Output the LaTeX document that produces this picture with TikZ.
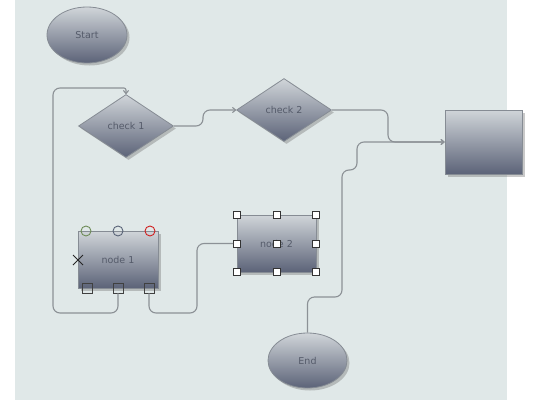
\documentclass[tikz,border=0pt]{standalone}
\usepackage{fontspec}
\setmainfont{DejaVu Sans}
\usetikzlibrary{shapes.geometric,shadows,arrows.meta}
\definecolor{bgc}{HTML}{E0E8E8}
\definecolor{topc}{HTML}{D0D5D9}
\definecolor{botc}{HTML}{5C6378}
\definecolor{edgec}{HTML}{868C94}
\definecolor{linec}{HTML}{8C9196}
\definecolor{txtc}{HTML}{555B6A}
\definecolor{portg}{HTML}{6E8C58}
\definecolor{portb}{HTML}{5A6478}
\definecolor{portr}{HTML}{D02020}
\tikzset{
  shapebase/.style={draw=edgec, line width=0.8pt, top color=topc, bottom color=botc,
    text=txtc, font=\fontsize{9.5}{11}\selectfont, inner sep=0pt,
    drop shadow={shadow xshift=2.5pt, shadow yshift=-2.5pt, opacity=0.35, fill=black!60}},
  ellipsebox/.style={shapebase, ellipse, minimum width=80pt, minimum height=56pt},
  diamondbox/.style={shapebase, diamond, minimum width=95pt, minimum height=63pt},
  rectbox/.style={shapebase, rectangle, minimum width=80pt, minimum height=57pt},
  conn/.style={draw=linec, line width=1.1pt, rounded corners=7pt},
  arr/.style={conn, -{To[length=4pt,width=6pt]}},
  portc/.style={circle, draw=#1, line width=0.9pt, minimum size=10pt, inner sep=0pt},
  ports/.style={rectangle, draw=black!75, line width=0.9pt, minimum size=10pt, inner sep=0pt},
  handle/.style={rectangle, draw=black!80, fill=white, line width=0.8pt, minimum size=7pt, inner sep=0pt},
}
\begin{document}
\begin{tikzpicture}[x=1pt,y=-1pt]
\useasboundingbox (0,0) rectangle (550,400);
\fill[white] (0,0) rectangle (550,400);
\fill[bgc] (15,0) rectangle (507,400);

\node[ellipsebox] (start) at (87,35) {Start};
\node[diamondbox] (check1) at (126,126) {check 1};
\node[diamondbox] (check2) at (284,110) {check 2};
\node[rectbox, minimum width=77pt, minimum height=64pt] (box) at (483.5,142) {};
\node[rectbox] (node1) at (118,259.5) {node 1};
\node[rectbox, minimum width=79pt] (node2) at (276.5,243.5) {node 2};
\node[ellipsebox, minimum width=79pt, minimum height=55pt] (end) at (307.5,360.5) {End};

% node 1 ports
\node[portc=portg] (n1t1) at (86,231) {};
\node[portc=portb] (n1t2) at (118,231) {};
\node[portc=portr] (n1t3) at (150,231) {};
\node[ports] (n1b1) at (87,288) {};
\node[ports] (n1b2) at (118,288) {};
\node[ports] (n1b3) at (149,288) {};
\draw[black!85, line width=0.9pt] (73,255) -- (83,265) (73,265) -- (83,255);

% node 2 handles
\foreach \x/\n in {237/a,276.5/b,316/c}{
  \foreach \y/\m in {215/1,243.5/2,272/3}{
    \node[handle] (h\n\m) at (\x,\y) {};
  }
}

% connectors
\coordinate (a1) at (118,313);
\coordinate (a2) at (53,313);
\coordinate (a3) at (53,88);
\coordinate (a4) at (126,88);
\draw[arr] (n1b2.south) -- (a1) -- (a2) -- (a3) [rounded corners=2pt] -- (a4) -- (check1.north);

\coordinate (b1) at (203,126);
\coordinate (b2) at (203,110);
\draw[arr] (check1.east) -- (b1) -- (b2) -- (check2.west);

\coordinate (c1) at (388,110);
\coordinate (c2) at (388,142);
\draw[arr] (check2.east) -- (c1) -- (c2) -- (box.west);

\coordinate (d1) at (307.5,297);
\coordinate (d2) at (342,297);
\coordinate (d3) at (342,170);
\coordinate (d4) at (357,170);
\coordinate (d5) at (357,142);
\draw[arr] (end.north) -- (d1) -- (d2) -- (d3) -- (d4) -- (d5) -- (box.west);

\coordinate (e1) at (149,313);
\coordinate (e2) at (197,313);
\coordinate (e3) at (197,243.5);
\draw[conn] (n1b3.south) -- (e1) -- (e2) -- (e3) -- (ha2.west);
\end{tikzpicture}
\end{document}
